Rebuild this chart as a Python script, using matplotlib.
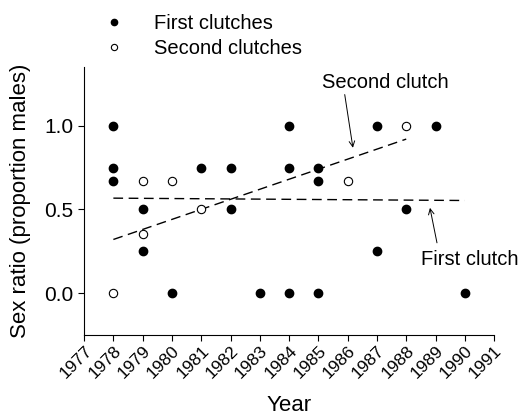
import matplotlib
matplotlib.use('Agg')
import matplotlib.pyplot as plt
import numpy as np

plt.rcParams['font.family'] = ['Liberation Sans', 'DejaVu Sans']

# 第一窝 (first clutches)
first_years = [1978, 1978, 1978, 1979, 1979, 1980, 1981, 1982, 1982, 1983,
               1984, 1984, 1984, 1985, 1985, 1985, 1987, 1987, 1988, 1989, 1990]
first_ratio = [1.0, 0.75, 0.667, 0.5, 0.25, 0.0, 0.75, 0.75, 0.5, 0.0,
               1.0, 0.75, 0.0, 0.75, 0.667, 0.0, 1.0, 0.25, 0.5, 1.0, 0.0]

# 第二窝 (second clutches)
second_years = [1978, 1979, 1979, 1980, 1981, 1986, 1988]
second_ratio = [0.0, 0.667, 0.35, 0.667, 0.5, 0.667, 1.0]

# 回归线端点
first_fit_x = [1978, 1990]
first_fit_y = [0.567, 0.553]
second_fit_x = [1978, 1988]
second_fit_y = [0.32, 0.92]

year_ticks = list(range(1977, 1992))
ratio_ticks = [0.0, 0.5, 1.0]

fig = plt.figure(figsize=(5.19, 4.17), dpi=100)
ax = fig.add_axes([0.162, 0.197, 0.790, 0.642])

ax.plot(first_fit_x, first_fit_y, '--', color='black', lw=1, dashes=(7, 4))
ax.plot(second_fit_x, second_fit_y, '--', color='black', lw=1, dashes=(7, 4))

h1, = ax.plot(first_years, first_ratio, 'o', color='black', markersize=6,
              linestyle='none', label='First clutches')
h2, = ax.plot(second_years, second_ratio, 'o', markerfacecolor='white',
              markeredgecolor='black', markeredgewidth=0.8, markersize=6,
              linestyle='none', label='Second clutches')

ax.set_xlim(1977, 1991)
ax.set_ylim(-0.25, 1.35)
ax.set_xticks(year_ticks)
ax.set_xticklabels([str(y) for y in year_ticks], rotation=45, ha='right',
                   va='top', rotation_mode='anchor', fontsize=12.5)
ax.set_yticks(ratio_ticks)
ax.set_yticklabels(['0.0', '0.5', '1.0'], fontsize=15)
ax.tick_params(direction='out', length=4, width=0.8)
ax.tick_params(axis='x', pad=2)

for s in ['top', 'right']:
    ax.spines[s].set_visible(False)
for s in ['left', 'bottom']:
    ax.spines[s].set_linewidth(0.8)

ax.set_xlabel('Year', fontsize=16)
ax.xaxis.set_label_coords(0.5, -0.225)
ax.set_ylabel('Sex ratio (proportion males)', fontsize=16, labelpad=10)

# 注释文字和箭头
ax.text(1985.12, 1.257, 'Second clutch', fontsize=14.5, ha='left', va='center')
ax.annotate('', xy=(1986.18, 0.868), xytext=(1985.9, 1.186),
            arrowprops=dict(arrowstyle='->', color='black', lw=0.7,
                            shrinkA=0, shrinkB=0))
ax.text(1988.5, 0.198, 'First clutch', fontsize=14.5, ha='left', va='center',
        clip_on=False)
ax.annotate('', xy=(1988.81, 0.509), xytext=(1989.05, 0.30),
            arrowprops=dict(arrowstyle='->', color='black', lw=0.7,
                            shrinkA=0, shrinkB=0))

fig.legend(handles=[h1, h2], loc='upper left', bbox_to_anchor=(0.165, 1.01),
           frameon=False, fontsize=14.5, markerscale=0.75, handlelength=1.0,
           handletextpad=1.5, labelspacing=0.3)

fig.savefig('out.png', dpi=100)
